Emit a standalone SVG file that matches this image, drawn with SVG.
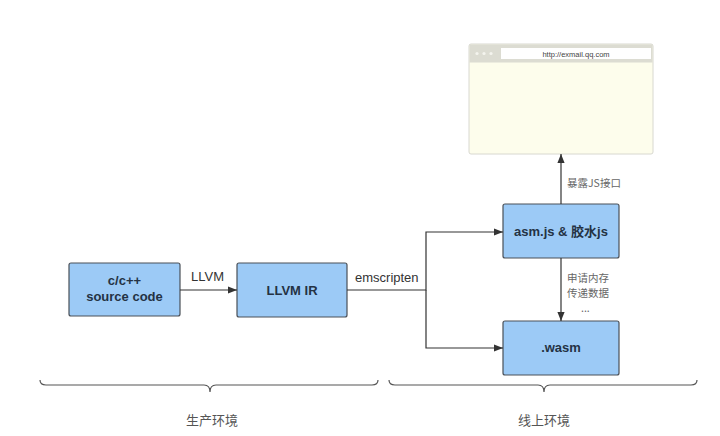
<svg xmlns="http://www.w3.org/2000/svg" width="720" height="436" viewBox="0 0 720 436">
<defs>
<style>
.node rect.box{fill:#9ccaf6;stroke:#4a5058;stroke-width:1.2}
.nt{font-family:"Liberation Sans","Noto Sans CJK SC",sans-serif;font-size:13px;font-weight:bold;fill:#243244;text-anchor:middle}
.lbl{font-family:"Liberation Sans","Noto Sans CJK SC",sans-serif;font-size:13px;fill:#333}
.cn{font-family:"Noto Sans CJK SC",sans-serif;font-size:10.5px;fill:#666}
.env{font-family:"Noto Sans CJK SC",sans-serif;font-size:13px;fill:#555;text-anchor:middle}
.conn path{fill:none;stroke:#333;stroke-width:1.2}
.brace{fill:none;stroke:#555;stroke-width:1.2}
</style>
<marker id="arr" viewBox="0 0 10 10" refX="10" refY="5" markerWidth="9" markerHeight="9" markerUnits="userSpaceOnUse" orient="auto">
<path d="M0,1 L10,5 L0,9 z" fill="#333"/>
</marker>
</defs>
<rect width="720" height="436" fill="#ffffff"/>

<g id="browser">
<rect x="469" y="44" width="184" height="110" rx="2" fill="#fdfdec" stroke="#d8d8d0" stroke-width="1"/>
<rect x="469.5" y="44.5" width="183" height="18" fill="#dcdcd2"/>
<rect x="501" y="48" width="150" height="11" fill="#ffffff"/>
<circle cx="477" cy="53.5" r="1.6" fill="#f4f4ee"/>
<circle cx="484" cy="53.5" r="1.6" fill="#f4f4ee"/>
<circle cx="491" cy="53.5" r="1.6" fill="#f4f4ee"/>
<text x="576" y="56.5" font-family="Liberation Sans,sans-serif" font-size="7.5" fill="#444" text-anchor="middle">http://exmail.qq.com</text>
</g>

<g id="src" class="node">
<rect class="box" x="69" y="263" width="111" height="53" rx="2"/>
<text class="nt" x="124.5" y="285">c/c++</text>
<text class="nt" x="124.5" y="301">source code</text>
</g>

<g id="llvmir" class="node">
<rect class="box" x="237" y="263" width="110" height="54" rx="2"/>
<text class="nt" x="292" y="295">LLVM IR</text>
</g>

<g id="asmjs" class="node">
<rect class="box" x="503" y="204" width="116" height="54" rx="2"/>
<text class="nt" x="561" y="236">asm.js &amp; 胶水js</text>
</g>

<g id="wasm" class="node">
<rect class="box" x="503" y="321" width="116" height="54" rx="2"/>
<text class="nt" x="561" y="352">.wasm</text>
</g>

<g id="connectors" class="conn">
<path d="M180,290 L237,290" marker-end="url(#arr)"/>
<path d="M347,290 L426,290 L426,232 L503,232" marker-end="url(#arr)"/>
<path d="M426,290 L426,348 L503,348" marker-end="url(#arr)"/>
<path d="M561,204 L561,154" marker-end="url(#arr)"/>
<path d="M561,258 L561,321" marker-end="url(#arr)"/>
</g>

<g id="labels">
<text class="lbl" x="191" y="281">LLVM</text>
<text class="lbl" x="355" y="282">emscripten</text>
<text class="cn" x="567" y="187">暴露JS接口</text>
<text class="cn" x="567" y="282">申请内存</text>
<text class="cn" x="567" y="297">传递数据</text>
<text class="cn" x="581" y="312">...</text>
</g>

<g id="braces">
<path class="brace" d="M40,380 Q40,385 46,385 L204,385 Q210,385 210,392 Q210,385 216,385 L372,385 Q378,385 378,380"/>
<path class="brace" d="M389,380 Q389,385 395,385 L538,385 Q544,385 544,392 Q544,385 550,385 L691,385 Q697,385 697,380"/>
<text class="env" x="212" y="425">生产环境</text>
<text class="env" x="544" y="425">线上环境</text>
</g>
</svg>
